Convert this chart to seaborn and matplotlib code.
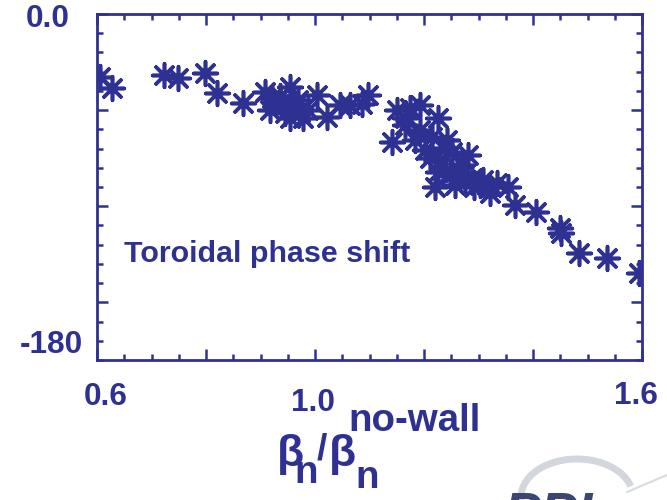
import matplotlib
matplotlib.use("Agg")
import matplotlib.pyplot as plt
import matplotlib.transforms as mtransforms
from matplotlib import font_manager
from matplotlib.patches import Arc
from matplotlib.lines import Line2D
from matplotlib.ticker import MultipleLocator
import seaborn as sns
import pandas as pd

# ---- data ----
beta_ratio = [0.606, 0.628, 0.723, 0.749, 0.798, 0.820, 0.868, 0.908, 0.921, 0.927,
              0.939, 0.954, 0.917, 0.960, 0.973, 0.978, 0.954, 0.965, 0.945, 1.004,
              1.022, 1.046, 1.064, 1.097, 1.086, 0.936, 0.969, 0.987,
              1.151, 1.165, 1.193, 1.174, 1.226, 1.141, 1.184, 1.215, 1.242, 1.211,
              1.251, 1.281, 1.226, 1.261, 1.288, 1.308, 1.220, 1.334, 1.354, 1.321,
              1.292, 1.367, 1.406, 1.450, 1.451, 1.484, 1.536, 1.595,
              1.165, 1.193, 1.229, 1.239, 1.270, 1.248, 1.303, 1.202, 1.257, 1.275]
phase_shift = [-32.8, -38.5, -31.7, -33.3, -30.7, -41.1, -46.3, -40.6, -43.7, -46.3,
               -47.3, -38.0, -49.9, -48.4, -51.0, -54.1, -54.1, -46.8, -51.5, -42.1,
               -53.6, -47.3, -47.3, -42.1, -46.8, -42.7, -44.7, -49.9,
               -49.9, -54.1, -47.3, -48.9, -54.1, -66.6, -65.5, -64.0, -65.5, -74.9,
               -71.8, -73.3, -82.2, -80.1, -85.3, -86.4, -90.0, -87.9, -90.0, -93.1,
               -90.0, -99.4, -103.0, -111.3, -113.9, -124.3, -126.9, -134.7,
               -57.7, -60.3, -76.0, -69.7, -78.5, -83.8, -89.0, -70.7, -89.0, -86.4]
x_labels = ["0.6", "1.0", "1.6"]
x_label_pos = [0.6, 1.0, 1.6]
y_labels = ["0.0", "-180"]
y_label_pos = [0.0, -180.0]

df = pd.DataFrame({"beta": beta_ratio, "phase": phase_shift})

NAVY = "#2E3192"

sns.set_style("white")
names = {f.name for f in font_manager.fontManager.ttflist}
if "Liberation Sans Narrow" in names:
    FAM = ["Liberation Sans Narrow", "DejaVu Sans"]
    k = 1.0
else:
    FAM = ["Liberation Sans", "DejaVu Sans"]
    k = 0.84
plt.rcParams["font.family"] = FAM

fig = plt.figure(figsize=(6.67, 5.0), dpi=100)
ax = fig.add_axes([97 / 667, 1 - 360 / 500, 545 / 667, 346 / 500])

sns.scatterplot(data=df, x="beta", y="phase", ax=ax, marker=(8, 2, 0), s=290,
                color=NAVY, edgecolor=NAVY, linewidth=2.6, legend=False, zorder=3)

ax.set_xlim(0.6, 1.6)
ax.set_ylim(-180, 0)
ax.set_xlabel("")
ax.set_ylabel("")
ax.xaxis.set_major_locator(MultipleLocator(0.2))
ax.xaxis.set_minor_locator(MultipleLocator(0.05))
ax.yaxis.set_major_locator(MultipleLocator(50))
ax.yaxis.set_minor_locator(MultipleLocator(10))
ax.tick_params(which="both", direction="in", top=True, right=True, bottom=True, left=True,
               labelbottom=False, labelleft=False, color=NAVY, width=1.8)
ax.tick_params(which="major", length=8)
ax.tick_params(which="minor", length=4)
for sp in ax.spines.values():
    sp.set_color(NAVY)
    sp.set_linewidth(2.0)
    sp.set_visible(True)

# tick labels (placed as in the reference)
xoff = [(9, -37), (-2, -43), (-6, -36)]
for v, lab, (dx, dy) in zip(x_label_pos, x_labels, xoff):
    tr = mtransforms.offset_copy(ax.get_xaxis_transform(), fig=fig, x=dx, y=dy, units="dots")
    ax.text(v, 0, lab, transform=tr, ha="center", va="center", fontsize=27 * k,
            fontweight="bold", color=NAVY)
yoff = [(-49, -5), (-46, 15)]
for v, lab, (dx, dy) in zip(y_label_pos, y_labels, yoff):
    tr = mtransforms.offset_copy(ax.get_yaxis_transform(), fig=fig, x=dx, y=dy, units="dots")
    ax.text(0, v, lab, transform=tr, ha="center", va="center", fontsize=27 * k,
            fontweight="bold", color=NAVY)

ax.text(124 / 667, 1 - 262 / 500, "Toroidal phase shift", transform=fig.transFigure,
        ha="left", va="baseline", fontsize=26 * k, fontweight="bold", color=NAVY)

# axis label: beta_n / beta_n^no-wall
def ftxt(x, y, s, size):
    fig.text(x / 667, 1 - y / 500, s, ha="left", va="baseline", fontsize=size * k,
             fontweight="bold", color=NAVY)

ftxt(277, 466, "β", 38)
ftxt(294, 483, "n", 33)
ftxt(317, 460, "/", 32)
ftxt(329, 466, "β", 38)
ftxt(355, 488, "n", 33)
ftxt(348, 431, "no-wall", 33)

# logo fragment at the bottom right
arc = Arc((577 / 667, 1 - 497 / 500), 112 / 667, 76 / 500, angle=0,
          theta1=15, theta2=200, transform=fig.transFigure, color="#d3d6dc", lw=5)
fig.add_artist(arc)
fig.add_artist(Line2D([627 / 667, 1.0], [1 - 492 / 500, 1 - 475 / 500],
                      transform=fig.transFigure, color="#d8dbe0", lw=1.5))
fig.text(503 / 667, 1 - 531 / 500, "PPL", ha="left", va="baseline", fontsize=40,
         fontweight="bold", fontstyle="italic", color="#3b4672",
         family=["Liberation Sans", "DejaVu Sans"])

fig.savefig("out.png", dpi=100)
